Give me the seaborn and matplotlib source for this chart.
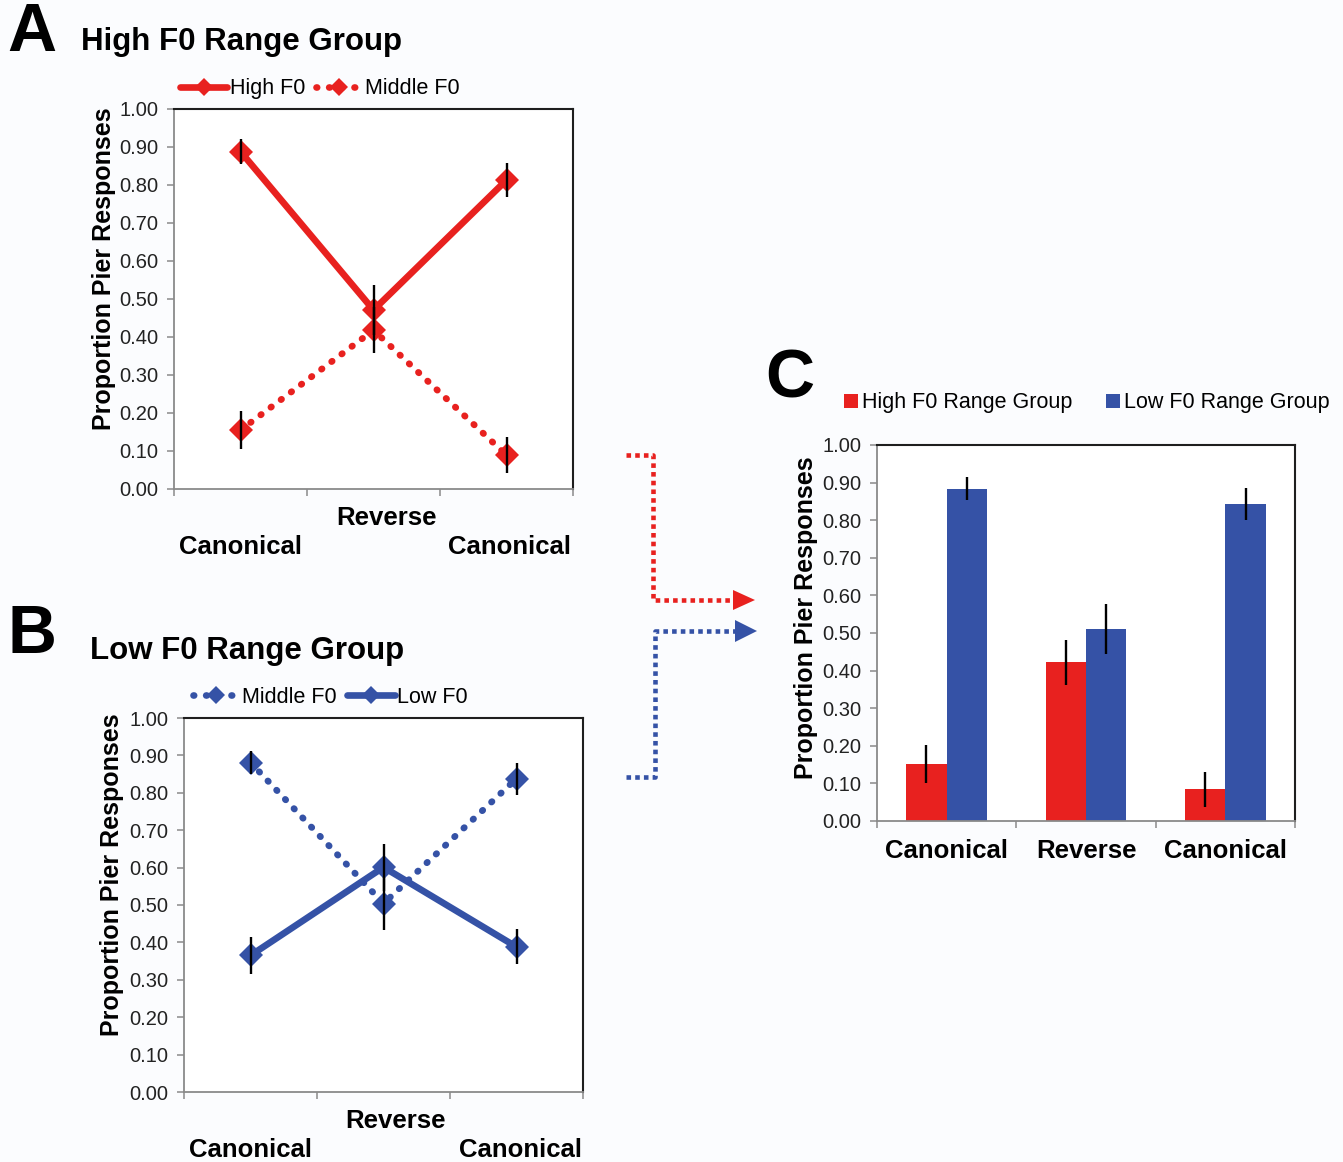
import numpy as np
import pandas as pd
import matplotlib
matplotlib.use("Agg")
import matplotlib.pyplot as plt
import matplotlib.transforms as mtransforms
from matplotlib.patches import Polygon
import seaborn as sns

# ---------------- data ----------------
positions = [0, 1, 2]
cond_keys = ["Canonical 1", "Reverse", "Canonical 2"]
cond_labels = ["Canonical", "Reverse", "Canonical"]

a_high_f0 = [0.888, 0.471, 0.813]
a_high_f0_err = [0.034, 0.066, 0.045]
a_mid_f0 = [0.155, 0.418, 0.089]
a_mid_f0_err = [0.050, 0.060, 0.048]

b_mid_f0 = [0.881, 0.504, 0.838]
b_mid_f0_err = [0.030, 0.070, 0.043]
b_low_f0 = [0.365, 0.601, 0.388]
b_low_f0_err = [0.050, 0.063, 0.047]

c_high_group = [0.151, 0.422, 0.084]
c_high_group_err = [0.050, 0.060, 0.047]
c_low_group = [0.884, 0.510, 0.843]
c_low_group_err = [0.030, 0.067, 0.042]

yticks = [0.0, 0.1, 0.2, 0.3, 0.4, 0.5, 0.6, 0.7, 0.8, 0.9, 1.0]

RED = "#e8211f"
BLUE = "#3552a6"
BG = "#fbfcfe"

# ---------------- style ----------------
sns.set_style("white")
plt.rcParams["font.family"] = ["Liberation Sans", "DejaVu Sans"]
plt.rcParams["text.color"] = "black"
plt.rcParams["axes.labelcolor"] = "black"
plt.rcParams["xtick.color"] = "#222222"
plt.rcParams["ytick.color"] = "#222222"

W, H = 1343, 1162
fig = plt.figure(figsize=(W / 100, H / 100), dpi=100, facecolor=BG)


def rect(left, top, right, bottom):
    return [left / W, 1 - bottom / H, (right - left) / W, (bottom - top) / H]


def style_axes(ax, label_xy):
    ax.set_facecolor("white")
    ax.set_ylim(0, 1)
    ax.set_xlim(-0.5, 2.5)
    ax.set_yticks(yticks)
    ax.set_yticklabels([f"{v:.2f}" for v in yticks], fontsize=14.5,
                       color="#222222")
    ax.set_xticks([-0.5, 0.5, 1.5, 2.5])
    ax.set_xticklabels([])
    ax.tick_params(axis="both", which="major", direction="out", length=5,
                   width=1.1, color="#8a8a8a", pad=6, left=True, bottom=True)
    for s in ["left", "bottom"]:
        ax.spines[s].set_color("#8a8a8a")
        ax.spines[s].set_linewidth(1.3)
    for s in ["top", "right"]:
        ax.spines[s].set_color("#1e1e1e")
        ax.spines[s].set_linewidth(1.5)
    ax.set_ylabel("Proportion Pier Responses", fontsize=18,
                  fontweight="bold", color="black")
    ax.yaxis.set_label_coords(*label_xy)
    ax.set_xlabel("")
    ax.grid(False)


def cat_labels(ax, xs, offsets_px):
    for x, lab, off in zip(xs, cond_labels, offsets_px):
        tr = mtransforms.offset_copy(ax.get_xaxis_transform(), fig=fig,
                                     x=0, y=-off, units="dots")
        ax.text(x, 0, lab, transform=tr, ha="center", va="center",
                fontsize=18.5, fontweight="bold", color="black")


def line_panel(ax, names, values, errs, legend_anchor, label_xy):
    rows = []
    for name, vals in zip(names, values):
        for p, v in zip(positions, vals):
            rows.append({"pos": p, "value": v, "series": name})
    df = pd.DataFrame(rows)
    dashes = {}
    for name in names:
        dashes[name] = "" if "Middle" not in name else (0.1, 1.8)
    color = RED if "High F0" in names else BLUE
    sns.lineplot(data=df, x="pos", y="value", hue="series", style="series",
                 hue_order=names, style_order=names,
                 palette={n: color for n in names}, dashes=dashes,
                 markers={n: "D" for n in names}, markersize=12,
                 markeredgewidth=0, linewidth=4.8, dash_capstyle="round",
                 errorbar=None, ax=ax)
    for vals, er in zip(values, errs):
        ax.errorbar(positions, vals, yerr=er, fmt="none", ecolor="black",
                    elinewidth=1.7, capsize=0, zorder=5)
    sns.move_legend(ax, "center", bbox_to_anchor=legend_anchor, ncol=2,
                    frameon=False, title=None, fontsize=15.5,
                    handlelength=2.2, handletextpad=0.1, columnspacing=0.5,
                    borderaxespad=0, markerscale=0.75)
    style_axes(ax, label_xy)


# ---------------- Panel A ----------------
axA = fig.add_axes(rect(174, 109, 573, 489))
line_panel(axA, ["High F0", "Middle F0"], [a_high_f0, a_mid_f0],
           [a_high_f0_err, a_mid_f0_err], (0.366, 1.053), (-0.146, 0.579))
cat_labels(axA, [0, 1.1, 2.02], [58, 29, 58])

# ---------------- Panel B ----------------
axB = fig.add_axes(rect(184, 718, 583, 1092))
line_panel(axB, ["Middle F0", "Low F0"], [b_mid_f0, b_low_f0],
           [b_mid_f0_err, b_low_f0_err], (0.366, 1.056), (-0.151, 0.58))
cat_labels(axB, [0, 1.09, 2.03], [58, 29, 58])

# ---------------- Panel C ----------------
axC = fig.add_axes(rect(877, 445, 1295, 821))
groups = ["High F0 Range Group", "Low F0 Range Group"]
rows = []
for g, vals in zip(groups, [c_high_group, c_low_group]):
    for k, v in zip(cond_keys, vals):
        rows.append({"cond": k, "value": v, "group": g})
dfc = pd.DataFrame(rows)
sns.barplot(data=dfc, x="cond", y="value", hue="group", order=cond_keys,
            hue_order=groups, palette={groups[0]: RED, groups[1]: BLUE},
            width=0.58, errorbar=None, saturation=1, linewidth=0, ax=axC)
for cont, er in zip(axC.containers, [c_high_group_err, c_low_group_err]):
    xs = [b.get_x() + b.get_width() / 2 for b in cont]
    hs = [b.get_height() for b in cont]
    axC.errorbar(xs, hs, yerr=er, fmt="none", ecolor="black",
                 elinewidth=1.7, capsize=0, zorder=5)
sns.move_legend(axC, "center", bbox_to_anchor=(0.502, 1.112), ncol=2,
                frameon=False, title=None, fontsize=15.5, handlelength=0.65,
                handleheight=0.65, handletextpad=0.15, columnspacing=1.6,
                borderaxespad=0)
style_axes(axC, (-0.141, 0.54))
for x, lab in zip(positions, cond_labels):
    tr = mtransforms.offset_copy(axC.get_xaxis_transform(), fig=fig,
                                 x=0, y=-30, units="dots")
    axC.text(x, 0, lab, transform=tr, ha="center", va="center",
             fontsize=18.5, fontweight="bold", color="black")

# ---------------- Panel letters / titles ----------------
def ftext(x, y, s, **kw):
    fig.text(x / W, 1 - y / H, s, color="black", **kw)

ftext(7, 33, "A", fontsize=49, fontweight="bold", va="center", ha="left")
ftext(81, 42, "High F0 Range Group", fontsize=22.5, fontweight="bold",
      va="center", ha="left")
ftext(7, 635, "B", fontsize=49, fontweight="bold", va="center", ha="left")
ftext(90, 651, "Low F0 Range Group", fontsize=22.5, fontweight="bold",
      va="center", ha="left")
ftext(765, 379, "C", fontsize=49, fontweight="bold", va="center", ha="left")

# ---------------- connector arrows ----------------
axO = fig.add_axes([0, 0, 1, 1], facecolor="none")
axO.set_xlim(0, W)
axO.set_ylim(H, 0)
axO.axis("off")
axO.plot([626, 653, 653, 735], [455, 455, 600, 600], color=RED, lw=3.3,
         linestyle=(0, (1, 0.9)))
axO.add_patch(Polygon([[733, 590], [733, 610], [755, 600]], closed=True,
                      color=RED, lw=0))
axO.plot([626, 655, 655, 735], [777, 777, 631, 631], color=BLUE, lw=3.3,
         linestyle=(0, (1, 0.9)))
axO.add_patch(Polygon([[735, 620], [735, 642], [757, 631]], closed=True,
                      color=BLUE, lw=0))

fig.savefig("out.png", dpi=100, facecolor=BG)
